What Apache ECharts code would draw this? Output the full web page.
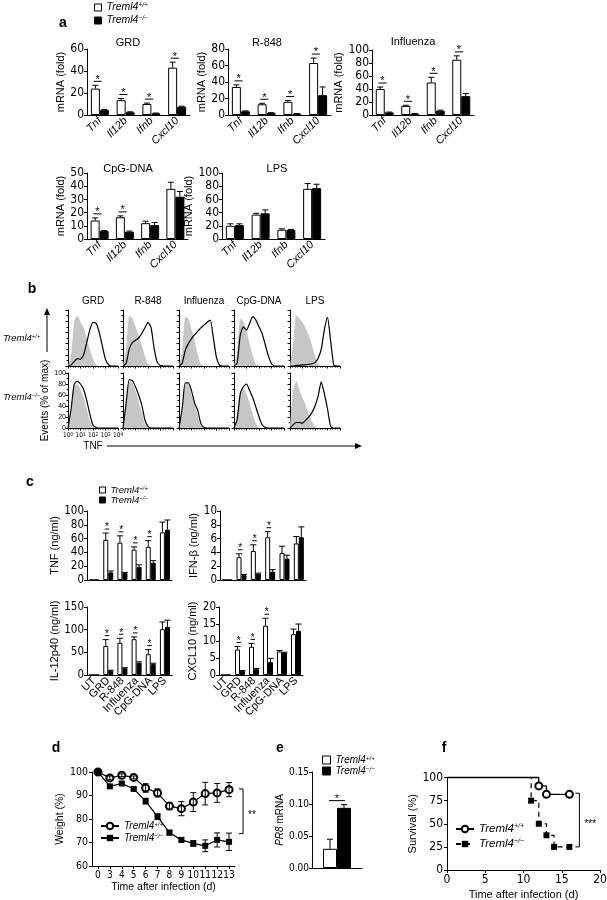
<!DOCTYPE html>
<html>
<head>
<meta charset="utf-8">
<script src="https://cdn.jsdelivr.net/npm/echarts@6/dist/echarts.min.js"></script>
<style>
  html, body { margin: 0; background: #fff; }
  #main { width: 607px; height: 900px; }
</style>
</head>
<body>
<div id="main"></div>
<script>
// ---- a: mRNA (fold) ----
const genes = ['Tnf', 'Il12b', 'Ifnb', 'Cxcl10'];
const grdWt = [24, 13.5, 10, 43], grdWtErr = [3, 1.5, 0.8, 5];
const grdKo = [4.5, 2.5, 1.5, 7.5], grdKoErr = [0.5, 0.4, 0.3, 0.5];
const r848Wt = [34, 13, 16, 63], r848WtErr = [2.5, 1.2, 1.5, 6];
const r848Ko = [4.5, 2.5, 1.5, 24], r848KoErr = [0.5, 0.4, 0.3, 10];
const fluWt = [40, 14, 50, 85], fluWtErr = [3, 1, 8, 6];
const fluKo = [4, 2, 6.5, 29], fluKoErr = [0.5, 0.4, 1, 4];
const cpgWt = [14, 16.5, 12, 38], cpgWtErr = [2, 1, 1.5, 5];
const cpgKo = [6, 5.5, 10.5, 32], cpgKoErr = [0.4, 0.5, 2, 4];
const lpsWt = [20, 37, 14, 76], lpsWtErr = [3, 2, 1.5, 8];
const lpsKo = [21, 39, 13.5, 77], lpsKoErr = [2, 5, 1, 6];
const sigAll = [0, 1, 2, 3], sigCpg = [0, 1], sigNone = [];

// ---- b: TNF histograms (x = log10 fluorescence) ----
const logBins = [0, 0.25, 0.5, 0.75, 1, 1.25, 1.5, 1.75, 2, 2.25, 2.5, 2.75, 3, 3.25, 3.5, 3.75, 4];
const stimNames = ['GRD', 'R-848', 'Influenza', 'CpG-DNA', 'LPS'];
const isoWt = [
  [0, 20, 80, 90, 78, 68, 50, 30, 12, 2, 0, 0, 0, 0, 0, 0, 0],
  [0, 30, 90, 85, 70, 55, 38, 18, 4, 0, 0, 0, 0, 0, 0, 0, 0],
  [0, 25, 88, 85, 65, 45, 20, 3, 0, 0, 0, 0, 0, 0, 0, 0, 0],
  [0, 25, 85, 80, 62, 40, 18, 4, 0, 0, 0, 0, 0, 0, 0, 0, 0],
  [0, 40, 90, 85, 78, 68, 55, 38, 18, 4, 0, 0, 0, 0, 0, 0, 0]
];
const tnfWt = [
  [0, 2, 8, 13, 12, 20, 42, 65, 78, 76, 60, 35, 12, 2, 0, 0, 0],
  [0, 5, 30, 42, 46, 50, 58, 68, 78, 68, 30, 6, 1, 0, 0, 0, 0],
  [0, 5, 28, 40, 49, 56, 62, 68, 73, 78, 82, 50, 15, 1, 0, 0, 0],
  [0, 5, 55, 70, 64, 76, 88, 82, 70, 58, 38, 18, 4, 0, 0, 0, 0],
  [0, 0, 1, 1, 2, 2, 3, 4, 6, 14, 30, 65, 87, 45, 2, 0, 0]
];
const isoKo = [
  [0, 30, 75, 80, 70, 55, 35, 12, 2, 0, 0, 0, 0, 0, 0, 0, 0],
  [0, 40, 85, 82, 68, 50, 28, 8, 1, 0, 0, 0, 0, 0, 0, 0, 0],
  [0, 30, 80, 80, 60, 42, 22, 4, 0, 0, 0, 0, 0, 0, 0, 0, 0],
  [0, 25, 68, 72, 62, 45, 25, 8, 1, 0, 0, 0, 0, 0, 0, 0, 0],
  [0, 70, 85, 70, 55, 42, 25, 12, 3, 0, 0, 0, 0, 0, 0, 0, 0]
];
const tnfKo = [
  [0, 35, 80, 85, 80, 70, 50, 25, 5, 1, 0, 0, 0, 0, 0, 0, 0],
  [0, 45, 88, 86, 75, 60, 42, 15, 3, 0, 0, 0, 0, 0, 0, 0, 0],
  [0, 35, 82, 82, 68, 45, 32, 8, 1, 0, 0, 0, 0, 0, 0, 0, 0],
  [0, 15, 62, 75, 80, 68, 55, 38, 20, 6, 1, 0, 0, 0, 0, 0, 0],
  [0, 6, 10, 10, 9, 14, 20, 28, 40, 58, 84, 62, 35, 3, 0, 0, 0]
];

// ---- c: cytokines (ng/ml) ----
const stimuli = ['UT', 'GRD', 'R-848', 'Influenza', 'CpG-DNA', 'LPS'];
const tnfProtWt = [0, 58, 54, 44, 48, 69], tnfProtWtErr = [0, 10, 10, 4, 9, 15];
const tnfProtKo = [0, 11, 10, 19, 25, 73], tnfProtKoErr = [0, 2, 1, 3, 3, 14];
const ifnWt = [0, 3.3, 4.2, 6.2, 3.9, 5.3], ifnWtErr = [0, 0.5, 0.9, 0.8, 1.0, 1.0];
const ifnKo = [0, 0.7, 0.9, 1.2, 3.1, 6.2], ifnKoErr = [0, 0.1, 0.1, 0.3, 0.5, 1.5];
const il12Wt = [0, 64, 71, 79, 46, 101], il12WtErr = [0, 14, 10, 5, 10, 16];
const il12Ko = [0, 9.5, 15, 27, 24, 106], il12KoErr = [0, 1, 1, 2, 2, 15];
const cxclWt = [0, 7.5, 8.3, 14.5, 6.9, 12], cxclWtErr = [0, 0.9, 1.0, 2.2, 0.3, 1.5];
const cxclKo = [0, 1.2, 1.7, 3.8, 6.6, 13], cxclKoErr = [0, 0.1, 0.2, 1.1, 0.1, 2];
const sigTnf = [1, 2, 3, 4], sigIfn = [1, 2, 3], sigIl12 = [1, 2, 3, 4], sigCxcl = [1, 2, 3];

// ---- d: weight ----
const days = ['0', '3', '4', '5', '6', '7', '8', '9', '10', '11', '12', '13'];
const weightWt = [100, 97.5, 98.6, 97.7, 93.2, 91.1, 85.5, 84.4, 87.2, 90.8, 91.1, 92.5];
const weightWtErr = [0, 0.8, 0.6, 0.6, 1.8, 1.7, 1.5, 3, 4, 4.8, 4, 3];
const weightKo = [100, 93.9, 95.1, 92.8, 87.6, 81, 74.2, 71.1, 69.6, 68.6, 71.1, 70.3];
const weightKoErr = [0, 0.6, 0.6, 0.6, 1.2, 1.2, 1, 0.8, 1.2, 2.5, 3, 3.7];
const bracketD = [92.8, 73.8];

// ---- e: PR8 mRNA ----
const pr8Wt = [0.030], pr8WtErr = [0.015];
const pr8Ko = [0.094], pr8KoErr = [0.005];

// ---- f: survival ----
const survWtTime = [0, 12, 13, 16], survWt = [100, 90.9, 81.8, 81.8];
const survKoTime = [0, 11, 12, 13, 14, 16], survKo = [100, 75, 50, 37.5, 25, 25];
const bracketF = [83, 25];

const FONT = '"Liberation Sans", Arial, sans-serif';
const NARROW = '"Liberation Sans Narrow", "DejaVu Sans Condensed", "Liberation Sans", sans-serif';
const grids = [], xAxes = [], yAxes = [], series = [], texts = [], legends = [];

function addGrid(box, xa, ya) {
  const i = grids.length;
  grids.push(Object.assign({ containLabel: false, outerBoundsMode: 'none' }, box));
  xAxes.push(Object.assign({ gridIndex: i }, xa));
  yAxes.push(Object.assign({ gridIndex: i }, ya));
  return i;
}

const lineBlack = { lineStyle: { color: '#000', width: 1 } };

function errBars(g, vals, errs, dx, both) {
  return {
    type: 'custom', xAxisIndex: g, yAxisIndex: g, silent: true, z: 4,
    data: vals.map((v, i) => [i, v, errs[i]]),
    renderItem: (p, api) => {
      const i = api.value(0), v = api.value(1), e = api.value(2);
      if (!e) return null;
      const top = api.coord([i, v + e]);
      const bot = api.coord([i, both ? v - e : v]);
      const x = top[0] + dx;
      const st = { stroke: '#000', lineWidth: 1 };
      const kids = [
        { type: 'line', shape: { x1: x, y1: bot[1], x2: x, y2: top[1] }, style: st },
        { type: 'line', shape: { x1: x - 3, y1: top[1], x2: x + 3, y2: top[1] }, style: st }
      ];
      if (both) kids.push({ type: 'line', shape: { x1: x - 3, y1: bot[1], x2: x + 3, y2: bot[1] }, style: st });
      return { type: 'group', children: kids };
    }
  };
}

function stars(g, sig, wt, wtErr, ko, koErr, half, dx, fs) {
  return {
    type: 'custom', xAxisIndex: g, yAxisIndex: g, silent: true, z: 4,
    data: sig.map(i => [i, Math.max(wt[i] + wtErr[i], ko[i] + koErr[i])]),
    renderItem: (p, api) => {
      const c = api.coord([api.value(0), api.value(1)]);
      const x = c[0] + dx, y = c[1] - 4;
      return { type: 'group', children: [
        { type: 'line', shape: { x1: x - half, y1: y, x2: x + half, y2: y }, style: { stroke: '#000', lineWidth: 1 } },
        { type: 'text', x: x, y: y + fs * 0.35, style: { text: '*', fontSize: fs, fontFamily: FONT, fill: '#000', textAlign: 'center', textVerticalAlign: 'bottom' } }
      ] };
    }
  };
}

function barChart(box, cats, wt, wtErr, ko, koErr, sig, o) {
  const g = addGrid(box,
    { type: 'category', data: cats, axisLine: lineBlack, axisTick: { show: false },
      axisLabel: { show: o.showX, rotate: 45, interval: 0, margin: 4, color: '#000', fontFamily: FONT,
        fontSize: o.xFont, fontStyle: o.xItalic ? 'italic' : 'normal' } },
    { type: 'value', min: 0, max: o.max, interval: o.interval, name: o.yName, nameLocation: 'middle',
      nameGap: o.nameGap, nameTextStyle: { fontSize: o.nameFont, fontFamily: FONT, color: '#000' },
      axisLine: Object.assign({ show: true }, lineBlack), axisTick: Object.assign({ show: true, length: 3 }, lineBlack),
      axisLabel: { fontSize: o.tickFont, fontFamily: NARROW, color: '#000', margin: 3 }, splitLine: { show: false } });
  series.push({ type: 'bar', name: 'WT ' + o.tag, xAxisIndex: g, yAxisIndex: g, data: wt, barWidth: o.bw, barGap: '0%',
    itemStyle: { color: '#fff', borderColor: '#000', borderWidth: 1 } });
  series.push({ type: 'bar', name: 'KO ' + o.tag, xAxisIndex: g, yAxisIndex: g, data: ko, barWidth: o.bw, barGap: '0%',
    itemStyle: { color: '#000', borderColor: '#000', borderWidth: 1 } });
  series.push(errBars(g, wt, wtErr, -o.bw / 2, false));
  series.push(errBars(g, ko, koErr, o.bw / 2, false));
  if (sig.length) series.push(stars(g, sig, wt, wtErr, ko, koErr, o.bw * 0.45, -o.bw * 0.25, o.starFont));
  return g;
}

// panel a
const aOpt = { tag: 'a', bw: 9, showX: true, xItalic: true, xFont: 11, tickFont: 12, nameFont: 11, nameGap: 19, yName: 'mRNA (fold)', starFont: 11 };
barChart({ left: 87, top: 49, width: 103, height: 66 }, genes, grdWt, grdWtErr, grdKo, grdKoErr, sigAll, Object.assign({}, aOpt, { max: 60, interval: 20 }));
barChart({ left: 228, top: 49, width: 103, height: 66 }, genes, r848Wt, r848WtErr, r848Ko, r848KoErr, sigAll, Object.assign({}, aOpt, { max: 80, interval: 20, nameGap: 18 }));
barChart({ left: 372, top: 50, width: 102, height: 65 }, genes, fluWt, fluWtErr, fluKo, fluKoErr, sigAll, Object.assign({}, aOpt, { max: 100, interval: 20, nameGap: 22 }));
barChart({ left: 87, top: 173, width: 101, height: 66 }, genes, cpgWt, cpgWtErr, cpgKo, cpgKoErr, sigCpg, Object.assign({}, aOpt, { max: 50, interval: 10 }));
barChart({ left: 222, top: 173, width: 103, height: 66 }, genes, lpsWt, lpsWtErr, lpsKo, lpsKoErr, sigNone, Object.assign({}, aOpt, { max: 100, interval: 20, nameGap: 22 }));

// panel c
const cOpt = { tag: 'c', bw: 5, xItalic: false, xFont: 11, tickFont: 11.5, nameFont: 11, starFont: 10 };
barChart({ left: 87, top: 511, width: 85, height: 69 }, stimuli, tnfProtWt, tnfProtWtErr, tnfProtKo, tnfProtKoErr, sigTnf, Object.assign({}, cOpt, { max: 100, interval: 20, yName: 'TNF (ng/ml)', nameGap: 26, showX: false }));
barChart({ left: 220, top: 511, width: 86, height: 69 }, stimuli, ifnWt, ifnWtErr, ifnKo, ifnKoErr, sigIfn, Object.assign({}, cOpt, { max: 10, interval: 2, yName: 'IFN-β (ng/ml)', nameGap: 16, showX: false }));
barChart({ left: 87, top: 607, width: 85, height: 68 }, stimuli, il12Wt, il12WtErr, il12Ko, il12KoErr, sigIl12, Object.assign({}, cOpt, { max: 150, interval: 50, yName: 'IL-12p40 (ng/ml)', nameGap: 26, showX: true }));
barChart({ left: 219, top: 607, width: 84, height: 68 }, stimuli, cxclWt, cxclWtErr, cxclKo, cxclKoErr, sigCxcl, Object.assign({}, cOpt, { max: 20, interval: 5, yName: 'CXCL10 (ng/ml)', nameGap: 19, showX: true }));

// panel b: histograms
const colLeft = [68, 123, 179, 234, 290];
const rowBox = [{ top: 310, height: 56 }, { top: 373, height: 55 }];
[[isoWt, tnfWt], [isoKo, tnfKo]].forEach((pair, r) => {
  for (let c = 0; c < 5; c++) {
    const corner = (r === 1 && c === 0);
    const g = addGrid({ left: colLeft[c], top: rowBox[r].top, width: 50, height: rowBox[r].height },
      { type: 'value', min: 0, max: 4, interval: 1, axisLine: lineBlack,
        axisTick: Object.assign({ show: true, length: 2.5 }, lineBlack),
        minorTick: { show: true, splitNumber: 5, length: 1.5, lineStyle: { color: '#000' } },
        splitLine: { show: false },
        axisLabel: { show: corner, margin: 4, color: '#000', formatter: v => '{b|10}{s|' + v + '}',
          rich: { b: { fontSize: 6.5, fontFamily: NARROW, color: '#000' }, s: { fontSize: 4.5, fontFamily: FONT, color: '#000', verticalAlign: 'top' } } } },
      { type: 'value', min: 0, max: 100, interval: 20, axisLine: Object.assign({ show: true }, lineBlack),
        axisTick: Object.assign({ show: true, length: 2.5 }, lineBlack),
        minorTick: { show: true, splitNumber: 2, length: 1.5, lineStyle: { color: '#000' } },
        splitLine: { show: false },
        name: corner ? 'Events (% of max)' : '', nameLocation: 'middle', nameGap: 16,
        nameTextStyle: { fontSize: 10, fontFamily: FONT, color: '#000' },
        axisLabel: { show: corner, fontSize: 7, fontFamily: FONT, color: '#000', margin: 2 } });
    series.push({ type: 'line', xAxisIndex: g, yAxisIndex: g, silent: true, symbol: 'none', smooth: 0.2,
      data: logBins.map((b, k) => [b, pair[0][c][k]]), lineStyle: { width: 0 },
      areaStyle: { color: '#c6c6c6', opacity: 1 } });
    series.push({ type: 'line', xAxisIndex: g, yAxisIndex: g, silent: true, symbol: 'none', smooth: 0.2, z: 3,
      data: logBins.map((b, k) => [b, pair[1][c][k]]), lineStyle: { color: '#000', width: 1.2 } });
  }
});

// panel d: weight
const gd = addGrid({ left: 92, top: 772, width: 143, height: 94 },
  { type: 'category', data: days, axisLine: lineBlack, axisTick: Object.assign({ show: true, alignWithLabel: true, length: 3 }, lineBlack),
    axisLabel: { fontSize: 10, fontFamily: NARROW, color: '#000', margin: 4, interval: 0 },
    name: 'Time after infection (d)', nameLocation: 'middle', nameGap: 16, nameTextStyle: { fontSize: 10.5, fontFamily: FONT, color: '#000' } },
  { type: 'value', min: 60, max: 100, interval: 10, axisLine: Object.assign({ show: true }, lineBlack),
    axisTick: Object.assign({ show: true, length: 3 }, lineBlack), splitLine: { show: false },
    axisLabel: { fontSize: 10.5, fontFamily: NARROW, color: '#000', margin: 4 },
    name: 'Weight (%)', nameLocation: 'middle', nameGap: 22, nameTextStyle: { fontSize: 10.5, fontFamily: FONT, color: '#000' } });
series.push({ type: 'line', name: 'WT d', xAxisIndex: gd, yAxisIndex: gd, data: weightWt, symbol: 'emptyCircle', symbolSize: 7,
  itemStyle: { color: '#000', borderColor: '#000', borderWidth: 1.2 }, lineStyle: { color: '#000', width: 1.2 }, z: 3 });
series.push({ type: 'line', name: 'KO d', xAxisIndex: gd, yAxisIndex: gd, data: weightKo, symbol: 'rect', symbolSize: 6,
  itemStyle: { color: '#000' }, lineStyle: { color: '#000', width: 1.2 }, z: 3 });
series.push(errBars(gd, weightWt, weightWtErr, 0, true));
series.push(errBars(gd, weightKo, weightKoErr, 0, true));

function bracket(g, xv, span, label, dx, fs) {
  return {
    type: 'custom', xAxisIndex: g, yAxisIndex: g, silent: true,
    data: [[xv, span[0], span[1]]],
    renderItem: (p, api) => {
      const a = api.coord([api.value(0), api.value(1)]);
      const b = api.coord([api.value(0), api.value(2)]);
      const x = a[0] + dx;
      return { type: 'group', children: [
        { type: 'polyline', shape: { points: [[x - 4, a[1]], [x, a[1]], [x, b[1]], [x - 4, b[1]]] }, style: { stroke: '#000', lineWidth: 1, fill: null } },
        { type: 'text', x: x + 5, y: (a[1] + b[1]) / 2 + 4, style: { text: label, fontSize: fs, fontFamily: FONT, fill: '#000', textAlign: 'left', textVerticalAlign: 'middle' } }
      ] };
    }
  };
}
series.push(bracket(gd, days.length - 1, bracketD, '**', 14, 10));

// panel e: PR8 mRNA
const ge = addGrid({ left: 312, top: 772, width: 50, height: 96 },
  { type: 'category', data: ['PR8'], axisLine: lineBlack, axisTick: { show: false }, axisLabel: { show: false } },
  { type: 'value', min: 0, max: 0.15, interval: 0.05, axisLine: Object.assign({ show: true }, lineBlack),
    axisTick: Object.assign({ show: true, length: 3 }, lineBlack), splitLine: { show: false },
    axisLabel: { fontSize: 10, fontFamily: NARROW, color: '#000', margin: 3, formatter: v => v.toFixed(2) },
    name: '{i|PR8} mRNA', nameLocation: 'middle', nameGap: 24,
    nameTextStyle: { fontSize: 10, fontFamily: FONT, color: '#000', rich: { i: { fontStyle: 'italic', fontSize: 10, fontFamily: FONT, color: '#000' } } } });
series.push({ type: 'bar', name: 'WT e', xAxisIndex: ge, yAxisIndex: ge, data: pr8Wt, barWidth: 14, barGap: '0%',
  itemStyle: { color: '#fff', borderColor: '#000', borderWidth: 1 } });
series.push({ type: 'bar', name: 'KO e', xAxisIndex: ge, yAxisIndex: ge, data: pr8Ko, barWidth: 14, barGap: '0%',
  itemStyle: { color: '#000', borderColor: '#000', borderWidth: 1 } });
series.push(errBars(ge, pr8Wt, pr8WtErr, -7, false));
series.push(errBars(ge, pr8Ko, pr8KoErr, 7, false));
series.push(stars(ge, [0], pr8Wt, pr8WtErr, pr8Ko, pr8KoErr, 8, 0, 10));

// panel f: survival
const gf = addGrid({ left: 447, top: 777.5, width: 153, height: 92.5 },
  { type: 'value', min: 0, max: 20, interval: 5, axisLine: lineBlack, axisTick: Object.assign({ show: true, length: 3 }, lineBlack),
    splitLine: { show: false }, axisLabel: { fontSize: 12, fontFamily: NARROW, color: '#000', margin: 4 },
    name: 'Time after infection (d)', nameLocation: 'middle', nameGap: 19, nameTextStyle: { fontSize: 11, fontFamily: FONT, color: '#000' } },
  { type: 'value', min: 0, max: 100, interval: 25, axisLine: Object.assign({ show: true }, lineBlack),
    axisTick: Object.assign({ show: true, length: 3 }, lineBlack), splitLine: { show: false },
    axisLabel: { fontSize: 12, fontFamily: NARROW, color: '#000', margin: 4 },
    name: 'Survival (%)', nameLocation: 'middle', nameGap: 27, nameTextStyle: { fontSize: 11, fontFamily: FONT, color: '#000' } });
series.push({ type: 'line', name: 'KO f', xAxisIndex: gf, yAxisIndex: gf, step: 'end', symbol: 'rect', symbolSize: 6, clip: false,
  data: survKoTime.map((t, i) => i === 0 ? { value: [t, survKo[i]], symbol: 'none' } : [t, survKo[i]]),
  itemStyle: { color: '#000' }, lineStyle: { color: '#000', width: 1.2, type: [5, 4] }, z: 2 });
series.push({ type: 'line', name: 'WT f', xAxisIndex: gf, yAxisIndex: gf, step: 'end', symbol: 'emptyCircle', symbolSize: 7, clip: false,
  data: survWtTime.map((t, i) => i === 0 ? { value: [t, survWt[i]], symbol: 'none' } : [t, survWt[i]]),
  itemStyle: { color: '#000', borderColor: '#000', borderWidth: 1.2 }, lineStyle: { color: '#000', width: 1.3 }, z: 5 });
series.push(bracket(gf, survWtTime[survWtTime.length - 1], bracketF, '***', 10, 10));

// legends
function genoRich(fs) {
  return {
    i: { fontStyle: 'italic', fontSize: fs, fontFamily: FONT, color: '#000' },
    s: { fontStyle: 'italic', fontSize: fs * 0.62, fontFamily: FONT, color: '#000', verticalAlign: 'top' }
  };
}
const genoFmt = n => n.startsWith('WT') ? '{i|Treml4}{s|+/+}' : '{i|Treml4}{s|−/−}';
function legendAt(left, top, tag, isLine, fs, gap, box) {
  const l = { left, top, orient: 'vertical', itemGap: gap, padding: 0, selectedMode: false,
    itemWidth: isLine ? 18 : box, itemHeight: isLine ? 8 : box, formatter: genoFmt, textStyle: { rich: genoRich(fs) } };
  if (isLine) {
    l.data = ['WT ' + tag, 'KO ' + tag];
  } else {
    l.icon = 'rect';
    l.data = [
      { name: 'WT ' + tag, itemStyle: { color: '#fff', borderColor: '#000', borderWidth: 1 } },
      { name: 'KO ' + tag, itemStyle: { color: '#000', borderColor: '#000', borderWidth: 1 } }
    ];
  }
  legends.push(l);
}
legendAt(94, 2, 'a', false, 10.5, 2, 7);
legendAt(99, 485, 'c', false, 9.5, 0, 6);
legendAt(322, 755, 'e', false, 10, 1, 8);
legendAt(100, 821, 'd', true, 10, 2);
legendAt(455, 823, 'f', true, 11.5, 3);

// text
function txt(x, y, text, fs, extra) {
  texts.push({ type: 'text', x, y, silent: true,
    style: Object.assign({ text, fontSize: fs, fontFamily: FONT, fill: '#000', textAlign: 'center', textVerticalAlign: 'middle' }, extra || {}) });
}
[['a', 63, 23], ['b', 32, 289], ['c', 30, 482], ['d', 56, 748], ['e', 280, 748], ['f', 444, 748]]
  .forEach(l => txt(l[1], l[2], l[0], 14, { fontWeight: 'bold' }));
txt(128, 43, 'GRD', 11); txt(267, 43, 'R-848', 11); txt(413, 42, 'Influenza', 11);
txt(128, 169, 'CpG-DNA', 11); txt(277, 169, 'LPS', 11);
stimNames.forEach((s, i) => txt(colLeft[i] + 25, 301, s, 10));
txt(3, 338, '{i|Treml4}{s|+/+}', 9.5, { textAlign: 'left', rich: genoRich(9.5) });
txt(3, 397, '{i|Treml4}{s|−/−}', 9.5, { textAlign: 'left', rich: genoRich(9.5) });
txt(93, 446, 'TNF', 10);
texts.push({ type: 'line', silent: true, shape: { x1: 107, y1: 446, x2: 356, y2: 446 }, style: { stroke: '#000', lineWidth: 1 } });
texts.push({ type: 'polygon', silent: true, shape: { points: [[362, 446], [355, 443], [355, 449]] }, style: { fill: '#000' } });
texts.push({ type: 'line', silent: true, shape: { x1: 47, y1: 352, x2: 47, y2: 314 }, style: { stroke: '#000', lineWidth: 1 } });
texts.push({ type: 'polygon', silent: true, shape: { points: [[47, 308], [44, 315], [50, 315]] }, style: { fill: '#000' } });

const chart = echarts.init(document.getElementById('main'));
chart.setOption({
  animation: false,
  backgroundColor: '#fff',
  textStyle: { fontFamily: FONT, color: '#000' },
  grid: grids, xAxis: xAxes, yAxis: yAxes,
  legend: legends, series: series, graphic: texts
});
</script>
</body>
</html>
